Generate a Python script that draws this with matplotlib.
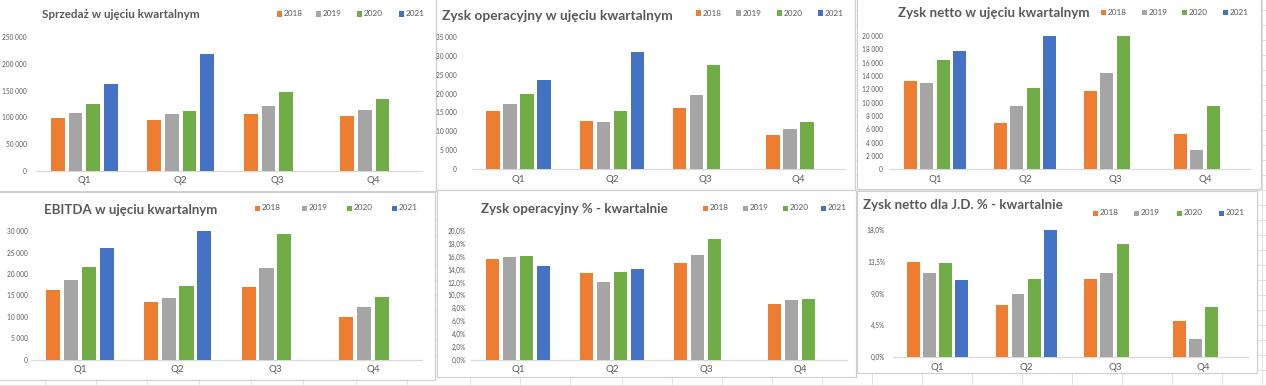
import matplotlib
matplotlib.use("Agg")
import matplotlib.pyplot as plt
from matplotlib.patches import Rectangle
from matplotlib.ticker import FuncFormatter
import numpy as np

W, H = 1266, 386
FONT = "Lato"
TXT = "#595959"

quarters = ["Q1", "Q2", "Q3", "Q4"]
years = ["2018", "2019", "2020", "2021"]
colors = ["#ED7D31", "#A5A5A5", "#70AD47", "#4472C4"]
nan = np.nan

# --- data ---
sales_2018 = [99000, 95000, 106000, 103000]
sales_2019 = [109000, 105500, 121500, 113000]
sales_2020 = [125000, 112000, 147000, 134500]
sales_2021 = [162000, 219500, nan, nan]
sales_ticks = [0, 50000, 100000, 150000, 200000, 250000]

op_2018 = [15400, 12700, 16100, 9000]
op_2019 = [17350, 12500, 19700, 10550]
op_2020 = [19900, 15400, 27600, 12600]
op_2021 = [23700, 31050, nan, nan]
op_ticks = [0, 5000, 10000, 15000, 20000, 25000, 30000, 35000]

net_2018 = [13300, 7000, 11750, 5350]
net_2019 = [12950, 9450, 14500, 2850]
net_2020 = [16450, 12250, 20000, 9500]
net_2021 = [17750, 20000, nan, nan]
net_ticks = [0, 2000, 4000, 6000, 8000, 10000, 12000, 14000, 16000, 18000, 20000]

ebitda_2018 = [16300, 13550, 17050, 10000]
ebitda_2019 = [18550, 14400, 21350, 12250]
ebitda_2020 = [21750, 17150, 29350, 14650]
ebitda_2021 = [26000, 30000, nan, nan]
ebitda_ticks = [0, 5000, 10000, 15000, 20000, 25000, 30000]

opm_2018 = [15.6, 13.4, 15.1, 8.6]
opm_2019 = [16.0, 12.0, 16.2, 9.3]
opm_2020 = [16.05, 13.7, 18.7, 9.4]
opm_2021 = [14.6, 14.1, nan, nan]
opm_ticks = [0, 2, 4, 6, 8, 10, 12, 14, 16, 18, 20]

npm_2018 = [13.45, 7.4, 11.0, 5.1]
npm_2019 = [11.9, 9.0, 11.9, 2.55]
npm_2020 = [13.25, 11.0, 16.0, 7.15]
npm_2021 = [10.85, 18.0, nan, nan]
npm_ticks = [0, 4.5, 9.0, 13.5, 18.0]

titles = ["Sprzedaż w ujęciu kwartalnym",
          "Zysk operacyjny w ujęciu kwartalnym",
          "Zysk netto w ujęciu kwartalnym",
          "EBITDA w ujęciu kwartalnym",
          "Zysk operacyjny % - kwartalnie",
          "Zysk netto dla J.D. % - kwartalnie"]

def fmt_thousands(v, pos=None):
    return "{:,.0f}".format(v).replace(",", " ")

def fmt_pct(v, pos=None):
    return "{:.1f}%".format(v).replace(".", ",")

charts = [
    dict(series=[sales_2018, sales_2019, sales_2020, sales_2021], ticks=sales_ticks, fmt=fmt_thousands),
    dict(series=[op_2018, op_2019, op_2020, op_2021], ticks=op_ticks, fmt=fmt_thousands),
    dict(series=[net_2018, net_2019, net_2020, net_2021], ticks=net_ticks, fmt=fmt_thousands),
    dict(series=[ebitda_2018, ebitda_2019, ebitda_2020, ebitda_2021], ticks=ebitda_ticks, fmt=fmt_thousands),
    dict(series=[opm_2018, opm_2019, opm_2020, opm_2021], ticks=opm_ticks, fmt=fmt_pct),
    dict(series=[npm_2018, npm_2019, npm_2020, npm_2021], ticks=npm_ticks, fmt=fmt_pct),
]

# --- layout (pixels) ---
panels = [(-2, -2, 436, 191), (436, -2, 855, 190), (857, -2, 1261, 189),
          (-2, 192, 435, 380), (437, 190, 856, 377), (857, 191, 1257, 373)]
# axes: left, right, zero_y, top_y
axes_px = [(36, 422, 170.7, 37.3), (472, 845, 169.3, 36.7), (890, 1250, 169.3, 36.0),
           (31, 422, 359.7, 231.3), (471, 847, 359.7, 231.0), (893, 1248, 357.3, 229.7)]
ytick_pad_px = [9, 15, 7, 3, 5, 8]
title_pos = [(42, 14, 158), (442, 16, 230), (898, 13, 192),
             (44, 210, 173), (481, 209, 186), (863, 205, 199)]
legend_sq = [(277, 316, 357, 399, 14), (696, 736, 777, 818, 13), (1101, 1142, 1182, 1223, 12.7),
             (255, 302, 347, 392, 208), (703, 743, 783, 821, 208), (1093, 1134, 1177, 1219, 213)]

fig = plt.figure(figsize=(W / 100, H / 100), dpi=100)
fig.patch.set_facecolor("white")

def fx(x):
    return x / W

def fy(y):
    return 1 - y / H

# background spreadsheet grid
bg = fig.add_axes([0, 0, 1, 1], zorder=-10)
bg.set_xlim(0, W); bg.set_ylim(H, 0); bg.axis("off")
vlines = [45, 96, 147, 199, 251, 303, 356, 407, 470, 520, 570, 622, 672, 722, 772, 822,
          872, 922, 972, 1022, 1072, 1122, 1172, 1222, 1262]
for x in vlines:
    bg.plot([x, x], [0, H], color="#E2E2E2", lw=0.8)
for y in np.arange(10, H, 15):
    bg.plot([0, W], [y, y], color="#E2E2E2", lw=0.8)
for (x0, y0, x1, y1) in panels:
    bg.add_patch(Rectangle((x0, y0), x1 - x0, y1 - y0, facecolor="white",
                           edgecolor="#D0D0D0", lw=0.9, zorder=5))

renderer = fig.canvas.get_renderer()

def fit_text(x, y, s, width_px, size0=9, **kw):
    t = fig.text(fx(x), fy(y), s, fontsize=size0, family=FONT, va="center", ha="left", **kw)
    w = t.get_window_extent(renderer).width
    t.set_fontsize(size0 * width_px / w)
    return t

n = 4
pitch = 0.182
bw = 0.144
offsets = (np.arange(n) - (n - 1) / 2) * pitch
xpos = np.arange(len(quarters))

for i, ch in enumerate(charts):
    l, r, z, t = axes_px[i]
    ax = fig.add_axes([fx(l), fy(z), (r - l) / W, (z - t) / H])
    ax.set_facecolor("none")
    for k, vals in enumerate(ch["series"]):
        ax.bar(xpos + offsets[k], vals, width=bw, color=colors[k], edgecolor="none", zorder=3)
    ax.set_xlim(-0.5, len(quarters) - 0.5)
    ax.set_ylim(0, ch["ticks"][-1])
    ax.set_yticks(ch["ticks"])
    ax.yaxis.set_major_formatter(FuncFormatter(ch["fmt"]))
    ax.set_xticks(xpos)
    ax.set_xticklabels(quarters)
    for sp in ["top", "right", "left"]:
        ax.spines[sp].set_visible(False)
    ax.spines["bottom"].set_color("#D9D9D9")
    ax.spines["bottom"].set_linewidth(0.9)
    ax.tick_params(axis="y", length=0, labelsize=4.7, labelcolor=TXT, pad=ytick_pad_px[i] * 0.72)
    ax.tick_params(axis="x", length=0, labelsize=7.0, labelcolor=TXT, pad=3.8)
    for lab in ax.get_xticklabels() + ax.get_yticklabels():
        lab.set_family(FONT)
    # title
    tx, ty, tw = title_pos[i]
    fit_text(tx, ty, titles[i], tw, fontweight="bold", color=TXT)
    # legend
    sq = legend_sq[i]
    ly = sq[4]
    for k in range(4):
        s = 5.0
        fig.patches.append(Rectangle((fx(sq[k]), fy(ly + s / 2)), s / W, s / H,
                                     facecolor=colors[k], edgecolor="none",
                                     transform=fig.transFigure, figure=fig))
        fit_text(sq[k] + 7, ly, years[k], 19.0, color=TXT)

fig.savefig("out.png", dpi=100, facecolor="white")
